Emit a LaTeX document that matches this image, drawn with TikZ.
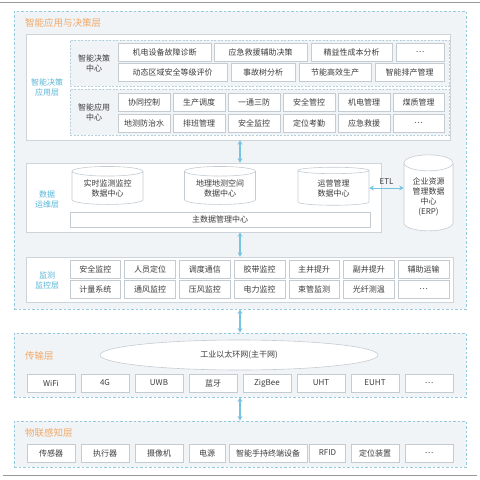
\documentclass[tikz,border=0pt]{standalone}
\usepackage{fontspec}
\setmainfont{Noto Sans CJK SC}
\usetikzlibrary{arrows.meta,shapes.geometric}
\definecolor{layerfill}{RGB}{241,244,247}
\definecolor{layerline}{RGB}{150,202,222}
\definecolor{groupline}{RGB}{180,208,220}
\definecolor{panelline}{RGB}{205,213,219}
\definecolor{cellline}{RGB}{196,204,210}
\definecolor{titleorange}{RGB}{240,168,105}
\definecolor{labelblue}{RGB}{90,182,214}
\definecolor{arrowblue}{RGB}{120,196,222}
\definecolor{textgray}{RGB}{60,60,60}

\begin{document}
\begin{tikzpicture}[x=1pt,y=1pt,yscale=-1,
  font=\fontsize{8}{10}\selectfont, text=textgray,
  layer/.style={draw=layerline, fill=layerfill, line width=0.9pt, dash pattern={on 2.5pt off 2pt}, inner sep=0pt},
  panel/.style={draw=panelline, fill=white, line width=0.6pt, inner sep=0pt},
  group/.style={draw=groupline, fill=layerfill, line width=0.6pt, dash pattern={on 2pt off 1.5pt}, inner sep=0pt},
  cell/.style={draw=cellline, fill=white, line width=0.6pt, minimum height=18pt, inner sep=0pt},
  db/.style={cylinder, shape border rotate=90, aspect=0.2, draw=cellline, fill=white, line width=0.6pt, align=center, inner sep=0pt},
  title/.style={text=titleorange, font=\fontsize{9.5}{11}\selectfont, anchor=west, inner sep=0pt},
  side/.style={text=labelblue, align=center, inner sep=0pt},
  centre/.style={align=center, inner sep=0pt},
  link/.style={draw=arrowblue, line width=1.3pt, {Stealth[length=4.5pt,width=5pt]}-{Stealth[length=4.5pt,width=5pt]}}
]
\useasboundingbox (0,0) rectangle (480,480);

% Frame lines
\draw [gray!80, line width=0.8pt] (0,2) -- (480,2) ;
\draw [gray!80, line width=0.8pt] (3,475) -- (477,475) ;

% Shape: Layers
\node [layer, minimum width=452pt, minimum height=298pt] (appl) at (240,160) {};
\node [layer, minimum width=452pt, minimum height=64pt] (trans) at (240,365) {};
\node [layer, minimum width=452pt, minimum height=46pt] (sense) at (240,444) {};

% Text Node: layer titles
\node [title] (applT) at (25,22.5) {智能应用与决策层};
\node [title] (transT) at (25,356) {传输层};
\node [title] (senseT) at (25,433) {物联感知层};

% Shape: Panels
\node [panel, minimum width=424pt, minimum height=106pt] (dec) at (238,87) {};
\node [panel, minimum width=355pt, minimum height=69pt] (data) at (203.5,197.5) {};
\node [panel, minimum width=427pt, minimum height=45pt] (mon) at (239.5,279.5) {};

% Text Node: panel labels
\node [side] (decL) at (47,87.5) {智能决策\\应用层};
\node [side] (dataL) at (47,199) {数据\\运维层};
\node [side] (monL) at (47,280) {监测\\监控层};

% Shape: Groups in decision panel
\node [group, minimum width=379pt, minimum height=46pt] (grpA) at (259.5,63) {};
\node [group, minimum width=379pt, minimum height=46pt] (grpB) at (259.5,112) {};
\node [centre] (grpAL) at (94,63) {智能决策\\中心};
\node [centre] (grpBL) at (94,112) {智能应用\\中心};

% Decision centre
\node [cell, minimum width=93pt, minimum height=18.5pt] (a1) at (164.5,52.5) {机电设备故障诊断};
\node [cell, minimum width=93pt, minimum height=18.5pt] (a2) at (260.5,52.5) {应急救援辅助决策};
\node [cell, minimum width=81pt, minimum height=18.5pt] (a3) at (351.5,52.5) {精益性成本分析};
\node [cell, minimum width=48pt, minimum height=18.5pt] (a4) at (420,52.5) {…};
\node [cell, minimum width=109pt, minimum height=18.5pt] (a5) at (172.5,72.5) {动态区域安全等级评价};
\node [cell, minimum width=64pt, minimum height=18.5pt] (a6) at (263,72.5) {事故树分析};
\node [cell, minimum width=72pt, minimum height=18.5pt] (a7) at (335,72.5) {节能高效生产};
\node [cell, minimum width=69pt, minimum height=18.5pt] (a8) at (409.5,72.5) {智能排产管理};

% Application centre
\node [cell, minimum width=52pt] (b1) at (144,102) {协同控制};
\node [cell, minimum width=52pt] (b2) at (199,102) {生产调度};
\node [cell, minimum width=52pt] (b3) at (254,102) {一通三防};
\node [cell, minimum width=52pt] (b4) at (309,102) {安全管控};
\node [cell, minimum width=52pt] (b5) at (364,102) {机电管理};
\node [cell, minimum width=51pt] (b6) at (418.5,102) {煤质管理};
\node [cell, minimum width=52pt] (b7) at (144,123) {地测防治水};
\node [cell, minimum width=52pt] (b8) at (199,123) {排班管理};
\node [cell, minimum width=52pt] (b9) at (254,123) {安全监控};
\node [cell, minimum width=52pt] (b10) at (309,123) {定位考勤};
\node [cell, minimum width=52pt] (b11) at (364,123) {应急救援};
\node [cell, minimum width=51pt] (b12) at (418.5,123) {…};

% Data centres
\node [db, minimum width=71pt, minimum height=38pt] (rt) at (107.5,188) {实时监测监控\\数据中心};
\node [db, minimum width=71pt, minimum height=38pt] (geo) at (220,188) {地理地测空间\\数据中心};
\node [db, minimum width=71pt, minimum height=38pt] (ops) at (333.5,188) {运营管理\\数据中心};
\node [cell, minimum width=300pt, minimum height=15pt] (master) at (220,219.5) {主数据管理中心};
\node [db, aspect=0.5, minimum width=49pt, minimum height=76pt] (erp) at (428.5,197) {企业资源\\管理数据\\中心\\(ERP)};

% Monitoring
\node [cell, minimum width=50.7pt] (m1) at (95.4,269) {安全监控};
\node [cell, minimum width=50.7pt] (m2) at (150.1,269) {人员定位};
\node [cell, minimum width=50.7pt] (m3) at (204.8,269) {调度通信};
\node [cell, minimum width=50.7pt] (m4) at (259.5,269) {胶带监控};
\node [cell, minimum width=50.7pt] (m5) at (314.2,269) {主井提升};
\node [cell, minimum width=50.7pt] (m6) at (368.9,269) {副井提升};
\node [cell, minimum width=50.7pt] (m7) at (423.6,269) {辅助运输};
\node [cell, minimum width=50.7pt] (m8) at (95.4,289.5) {计量系统};
\node [cell, minimum width=50.7pt] (m9) at (150.1,289.5) {通风监控};
\node [cell, minimum width=50.7pt] (m10) at (204.8,289.5) {压风监控};
\node [cell, minimum width=50.7pt] (m11) at (259.5,289.5) {电力监控};
\node [cell, minimum width=50.7pt] (m12) at (314.2,289.5) {束管监测};
\node [cell, minimum width=50.7pt] (m13) at (368.9,289.5) {光纤测温};
\node [cell, minimum width=50.7pt] (m14) at (423.6,289.5) {…};

% Transmission
\node [ellipse, draw=cellline, fill=white, line width=0.6pt, minimum width=278pt, minimum height=30pt, inner sep=0pt] (ring) at (239,355) {工业以太环网(主干网)};
\node [cell, minimum width=48pt] (t1) at (51,383) {WiFi};
\node [cell, minimum width=48pt] (t2) at (105,383) {4G};
\node [cell, minimum width=48pt] (t3) at (159,383) {UWB};
\node [cell, minimum width=48pt] (t4) at (213,383) {蓝牙};
\node [cell, minimum width=48pt] (t5) at (267,383) {ZigBee};
\node [cell, minimum width=48pt] (t6) at (321,383) {UHT};
\node [cell, minimum width=48pt] (t7) at (375,383) {EUHT};
\node [cell, minimum width=48pt] (t8) at (429,383) {…};

% Sensing
\node [cell, minimum width=48pt] (s1) at (51,453) {传感器};
\node [cell, minimum width=48pt] (s2) at (105,453) {执行器};
\node [cell, minimum width=48pt] (s3) at (159,453) {摄像机};
\node [cell, minimum width=36pt] (s4) at (207,453) {电源};
\node [cell, minimum width=78pt] (s5) at (268,453) {智能手持终端设备};
\node [cell, minimum width=36pt] (s6) at (327.5,453) {RFID};
\node [cell, minimum width=48pt] (s7) at (375,453) {定位装置};
\node [cell, minimum width=48pt] (s8) at (429,453) {…};

% Straight Lines: links
\coordinate (spine) at (240,0);
\draw [link] (dec.south -| spine) -- (data.north -| spine) ;
\draw [link] (data.south -| spine) -- (mon.north -| spine) ;
\draw [link] (appl.south -| spine) -- (trans.north -| spine) ;
\draw [link] (trans.south -| spine) -- (sense.north -| spine) ;
\draw [link, line width=0.8pt] (ops.east) -- node [above=3pt, inner sep=0pt] (etl) {ETL} (ops.east -| erp.west) ;

\end{tikzpicture}
\end{document}
